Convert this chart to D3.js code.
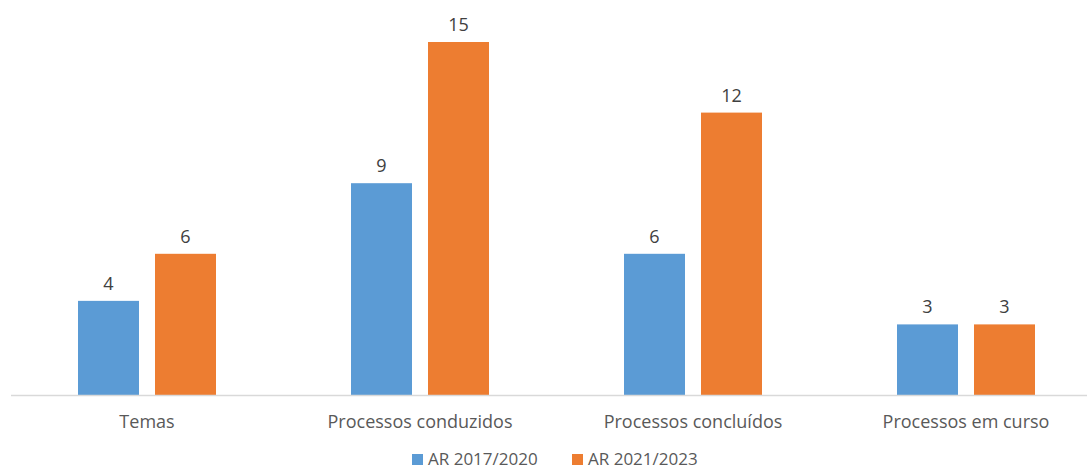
<!DOCTYPE html>
<html>
<head>
<meta charset="utf-8">
<script src="https://cdn.jsdelivr.net/npm/d3@7"></script>
<style>
  body { margin: 0; background: #fff; }
  svg { display: block; font-family: "Open Sans", sans-serif; }
</style>
</head>
<body>
<div id="chart"></div>
<script>
const categories = ["Temas", "Processos conduzidos", "Processos concluídos", "Processos em curso"];
const seriesNames = ["AR 2017/2020", "AR 2021/2023"];
const ar2017 = [4, 9, 6, 3];
const ar2021 = [6, 15, 12, 3];
const colors = ["#5b9bd5", "#ed7d31"];

const width = 1087, height = 470;
const baseY = 395;

const svg = d3.select("#chart").append("svg")
  .attr("width", width).attr("height", height);

const x = d3.scaleBand().domain(categories).range([10.5, 1102.5]).padding(0);
// two bars per band, 61px wide with a 16px gap
const x1 = d3.scaleBand().domain([0, 1]).range([0, 138]).paddingInner(16 / 77);
const y = d3.scaleLinear().domain([0, 15]).range([baseY, 42]);

const data = categories.map((c, i) => ({ cat: c, vals: [ar2017[i], ar2021[i]] }));

const groups = svg.append("g").selectAll("g").data(data).join("g")
  .attr("transform", d => `translate(${x(d.cat) + (x.bandwidth() - 138) / 2},0)`);

groups.selectAll("rect").data(d => d.vals).join("rect")
  .attr("x", (v, j) => x1(j))
  .attr("y", v => y(v))
  .attr("width", x1.bandwidth())
  .attr("height", v => baseY - y(v))
  .attr("fill", (v, j) => colors[j]);

groups.selectAll("text").data(d => d.vals).join("text")
  .attr("x", (v, j) => x1(j) + x1.bandwidth() / 2)
  .attr("y", v => y(v) - 11)
  .attr("text-anchor", "middle")
  .attr("font-size", 18)
  .attr("fill", "#404040")
  .text(v => v);

// axis line
svg.append("line")
  .attr("x1", 11).attr("x2", width)
  .attr("y1", baseY + 0.5).attr("y2", baseY + 0.5)
  .attr("stroke", "#d9d9d9").attr("stroke-width", 1.5);

svg.append("g").selectAll("text").data(categories).join("text")
  .attr("x", d => x(d) + x.bandwidth() / 2)
  .attr("y", 428)
  .attr("text-anchor", "middle")
  .attr("font-size", 18)
  .attr("fill", "#595959")
  .text(d => d);

// legend
const legendX = [412, 572];
const legend = svg.append("g").selectAll("g").data(seriesNames).join("g")
  .attr("transform", (d, i) => `translate(${legendX[i]},454)`);
legend.append("rect").attr("width", 11).attr("height", 11).attr("fill", (d, i) => colors[i]);
legend.append("text").attr("x", 16).attr("y", 11)
  .attr("font-size", 17).attr("fill", "#595959").text(d => d);
</script>
</body>
</html>
